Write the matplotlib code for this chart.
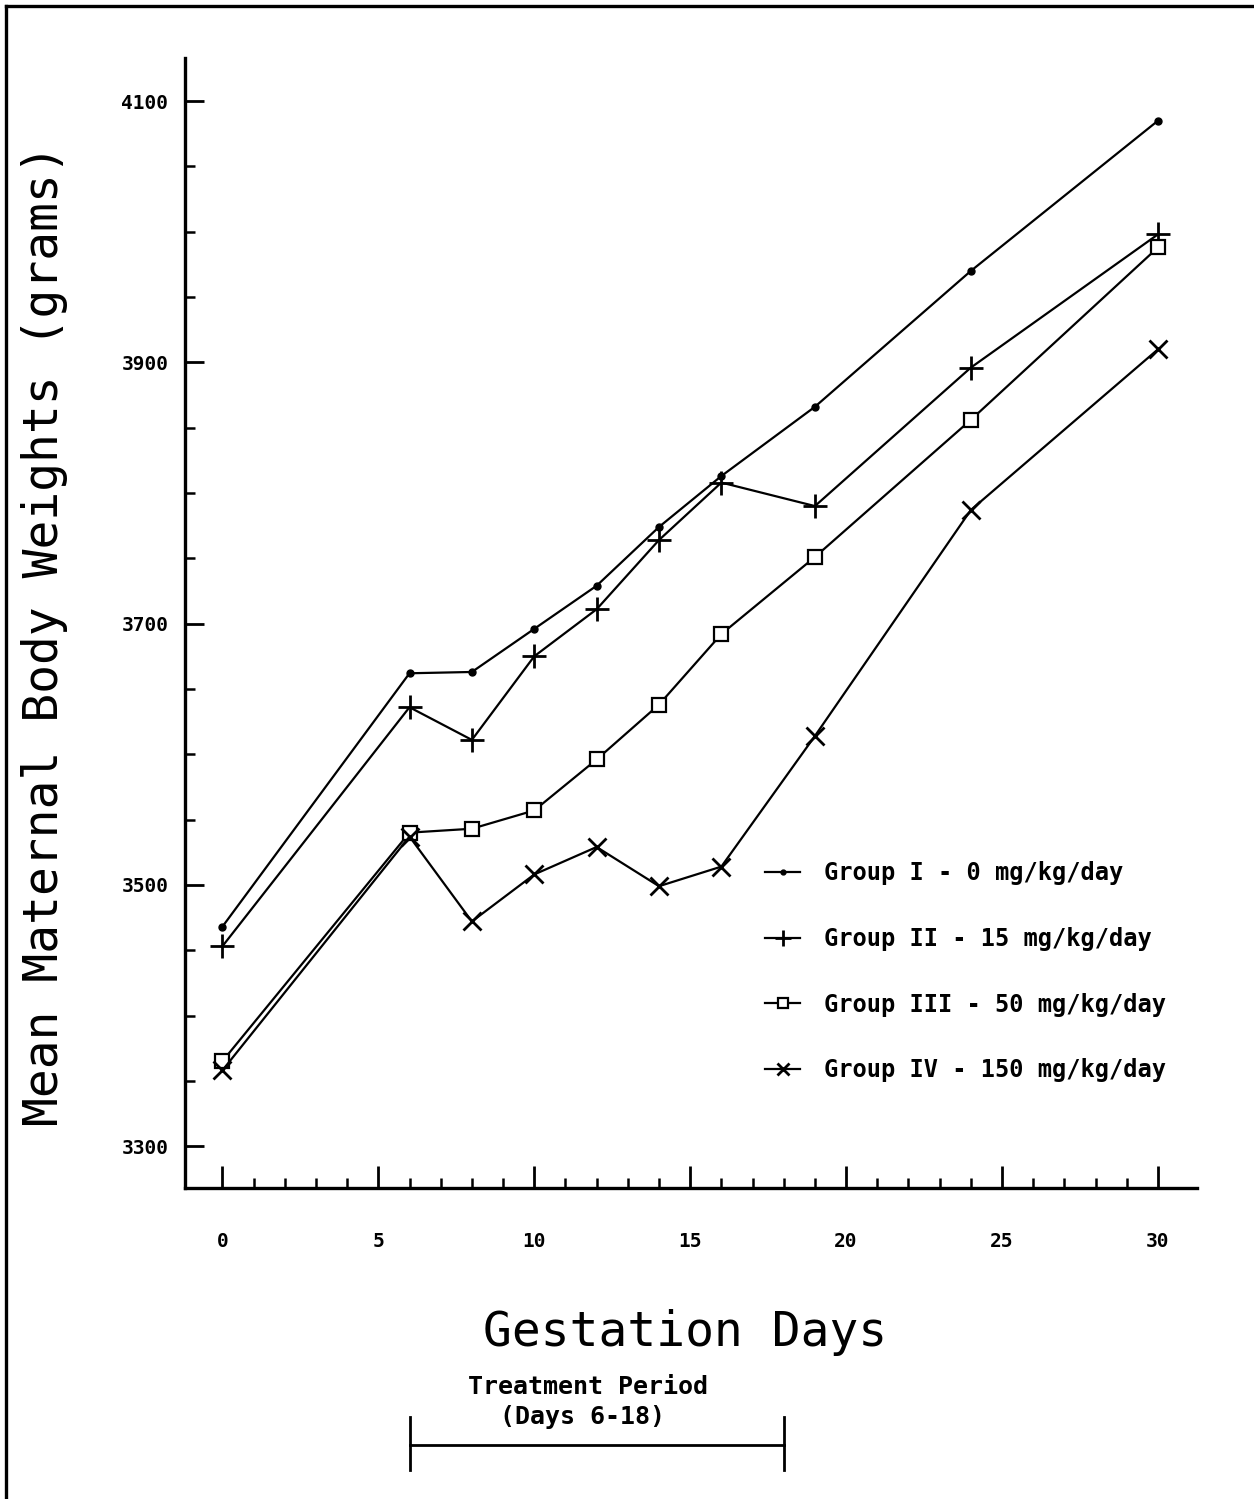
import matplotlib.pyplot as plt
from matplotlib.lines import Line2D
from matplotlib.ticker import FixedLocator
import matplotlib.transforms as mtransforms

# gestation days sampled
days = [0, 6, 8, 10, 12, 14, 16, 19, 24, 30]

# mean maternal body weight (g) per dose group
group_1 = [3468, 3662, 3663, 3696, 3729, 3774, 3813, 3866, 3970, 4085]
group_2 = [3453, 3636, 3611, 3675, 3711, 3764, 3808, 3790, 3896, 3998]
group_3 = [3365, 3540, 3543, 3557, 3596, 3638, 3692, 3751, 3856, 3988]
group_4 = [3358, 3537, 3472, 3508, 3529, 3499, 3514, 3614, 3787, 3910]

labels = [
    "Group I - 0 mg/kg/day",
    "Group II - 15 mg/kg/day",
    "Group III - 50 mg/kg/day",
    "Group IV - 150 mg/kg/day",
]

x_major = [0, 5, 10, 15, 20, 25, 30]
x_minor = list(range(0, 31))
y_major = [3300, 3500, 3700, 3900, 4100]
y_minor = list(range(3300, 4101, 50))

treatment_start, treatment_end = 6, 18

mono = "DejaVu Sans Mono"

fig = plt.figure(figsize=(12.54, 14.99), dpi=100)
ax = fig.add_axes([0.1475, 0.2075, 0.807, 0.7538])

styles = [
    dict(marker="o", ms=5, mfc="black"),
    dict(marker="+", ms=17, mew=2),
    dict(marker="s", ms=10, mfc="white", mew=1.6),
    dict(marker="x", ms=13, mew=2),
]
for vals, lab, st in zip([group_1, group_2, group_3, group_4], labels, styles):
    ax.plot(days, vals, color="black", lw=1.6, label=lab, **st)

ax.set_xlim(-1.2, 31.25)
ax.set_ylim(3268, 4133)

for side in ("top", "right"):
    ax.spines[side].set_visible(False)
for side in ("left", "bottom"):
    ax.spines[side].set_linewidth(2.4)

ax.xaxis.set_major_locator(FixedLocator(x_major))
ax.xaxis.set_minor_locator(FixedLocator(x_minor))
ax.yaxis.set_major_locator(FixedLocator(y_major))
ax.yaxis.set_minor_locator(FixedLocator(y_minor))
ax.tick_params(axis="x", which="major", direction="in", length=16, width=2, pad=32)
ax.tick_params(axis="x", which="minor", direction="in", length=7, width=1.8)
ax.tick_params(axis="y", which="major", direction="in", length=14, width=2, pad=12)
ax.tick_params(axis="y", which="minor", direction="in", length=7, width=1.8)
for lbl in ax.get_xticklabels() + ax.get_yticklabels():
    lbl.set_fontfamily(mono)
    lbl.set_fontweight("bold")
    lbl.set_fontsize(14)

fig.text(45 / 1254, 1 - 635 / 1499, "Mean Maternal Body Weights (grams)",
         rotation=90, ha="center", va="center", fontsize=34.5, family=mono)
fig.text(685 / 1254, 1 - 1333 / 1499, "Gestation Days",
         ha="center", va="center", fontsize=34.5, family=mono)

leg = ax.legend(loc="upper left", bbox_to_anchor=(765 / 1254, 1 - 861 / 1499),
                bbox_transform=fig.transFigure, frameon=False, borderpad=0,
                borderaxespad=0, handlelength=1.5, handletextpad=1.0,
                labelspacing=1.77, markerscale=0.7,
                prop=dict(family=mono, weight="bold", size=17))

# treatment period bracket under the day axis
tr = mtransforms.blended_transform_factory(ax.transData, fig.transFigure)
y_bar = 1 - 1445 / 1499
ax.plot([treatment_start, treatment_end], [y_bar, y_bar], transform=tr,
        color="black", lw=2, clip_on=False)
for d in (treatment_start, treatment_end):
    ax.plot([d, d], [1 - 1417 / 1499, 1 - 1470 / 1499], transform=tr,
            color="black", lw=2, clip_on=False)
fig.text(588 / 1254, 1 - 1387 / 1499, "Treatment Period",
         ha="center", va="center", fontsize=18, family=mono, weight="bold")
fig.text(582 / 1254, 1 - 1417 / 1499, "(Days 6-18)",
         ha="center", va="center", fontsize=18, family=mono, weight="bold")

# page frame along the top and left edges
fig.add_artist(Line2D([6 / 1254, 1.0], [1 - 6 / 1499, 1 - 6 / 1499],
                      color="black", lw=2.4))
fig.add_artist(Line2D([6 / 1254, 6 / 1254], [0.0, 1 - 6 / 1499],
                      color="black", lw=2.4))

fig.savefig("out.png", dpi=100)
